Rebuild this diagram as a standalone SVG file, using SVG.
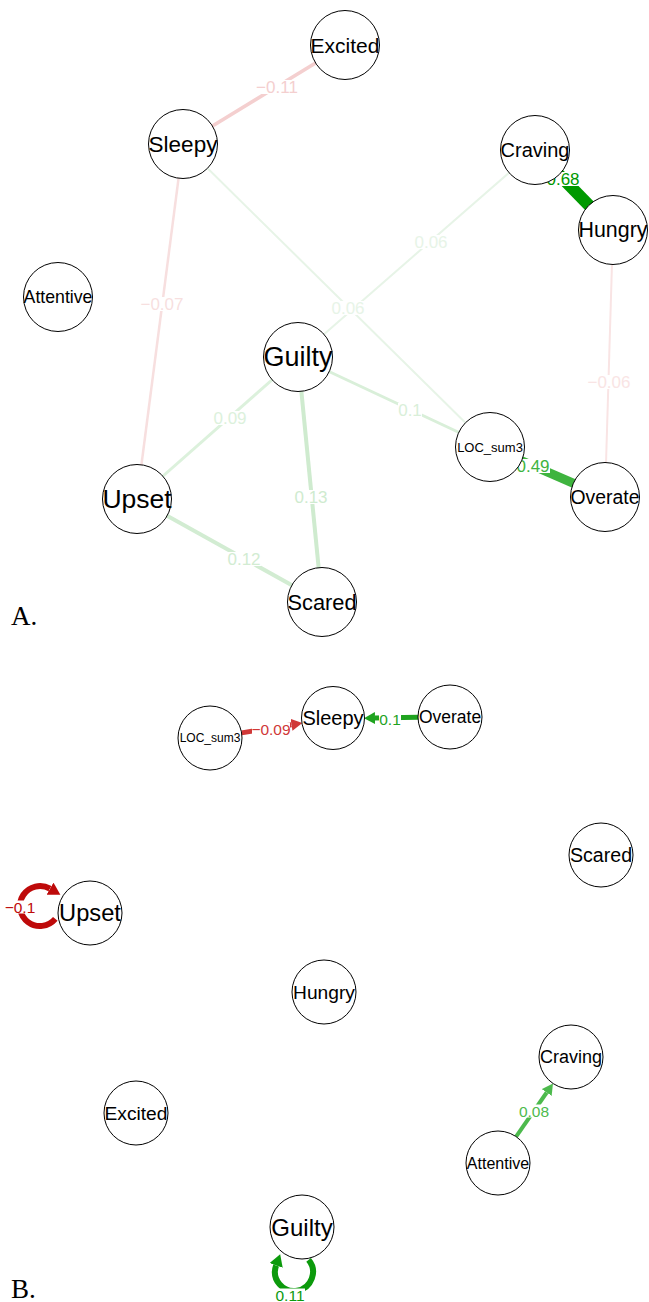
<svg xmlns="http://www.w3.org/2000/svg" width="649" height="1302" viewBox="0 0 649 1302">
<style>
.node circle{fill:#fff;stroke:#000;stroke-width:1}
.node text{font-family:"Liberation Sans",Arial,sans-serif;text-anchor:middle;dominant-baseline:central;fill:#000}
.elab{font-family:"Liberation Sans",Arial,sans-serif;text-anchor:middle;dominant-baseline:central}
.bg{fill:#fff}
.e{fill:none;stroke-linecap:butt}
.panel{font-family:"Liberation Serif","Times New Roman",serif;font-size:27px;fill:#000}
</style>
<defs>
<marker id="ar-red" markerUnits="userSpaceOnUse" markerWidth="12" markerHeight="12" refX="0" refY="6" orient="auto"><path d="M0,0 L11,6 L0,12 z" fill="#D03838"/></marker>
<marker id="ar-green" markerUnits="userSpaceOnUse" markerWidth="12" markerHeight="12" refX="0" refY="6" orient="auto"><path d="M0,0 L11,6 L0,12 z" fill="#1FA31F"/></marker>
<marker id="ar-lgreen" markerUnits="userSpaceOnUse" markerWidth="12" markerHeight="12" refX="0" refY="6" orient="auto"><path d="M0,0 L11,6 L0,12 z" fill="#4DBA4D"/></marker>
<marker id="ar-dred" markerUnits="userSpaceOnUse" markerWidth="14" markerHeight="14" refX="0" refY="7" orient="auto"><path d="M0,0 L12,7 L0,14 z" fill="#BE0A0A"/></marker>
<marker id="ar-dgreen" markerUnits="userSpaceOnUse" markerWidth="14" markerHeight="14" refX="0" refY="7" orient="auto"><path d="M0,0 L12,7 L0,14 z" fill="#0C9A0C"/></marker>
</defs>

<g id="connectors">
  <!-- Panel A -->
  <line class="e" x1="345" y1="45" x2="183" y2="144" stroke="#F4CFCF" stroke-width="3.5"/>
  <line class="e" x1="183" y1="144" x2="137" y2="499" stroke="#F7DFDF" stroke-width="2.5"/>
  <line class="e" x1="183" y1="144" x2="490" y2="447" stroke="#E7F4E7" stroke-width="2"/>
  <line class="e" x1="535" y1="150" x2="298" y2="357" stroke="#E7F4E7" stroke-width="2"/>
  <line class="e" x1="613" y1="230" x2="605" y2="497" stroke="#F9E4E4" stroke-width="2"/>
  <line class="e" x1="535" y1="150" x2="613" y2="230" stroke="#009900" stroke-width="12"/>
  <line class="e" x1="490" y1="447" x2="605" y2="497" stroke="#3FB43F" stroke-width="9"/>
  <line class="e" x1="298" y1="357" x2="490" y2="447" stroke="#D9EFD9" stroke-width="3"/>
  <line class="e" x1="298" y1="357" x2="137" y2="499" stroke="#DCF1DC" stroke-width="3"/>
  <line class="e" x1="298" y1="357" x2="322" y2="602" stroke="#CFEBCF" stroke-width="4"/>
  <line class="e" x1="137" y1="499" x2="322" y2="602" stroke="#D2ECD2" stroke-width="4"/>

  <!-- Panel B -->
  <line class="e" x1="241.6" y1="732.9" x2="291.5" y2="724.8" stroke="#D03838" stroke-width="5" marker-end="url(#ar-red)"/>
  <line class="e" x1="418" y1="717.3" x2="375" y2="718" stroke="#1FA31F" stroke-width="5" marker-end="url(#ar-green)"/>
  <line class="e" x1="516.1" y1="1136.6" x2="546.7" y2="1092.5" stroke="#4DBA4D" stroke-width="4" marker-end="url(#ar-lgreen)"/>
  <path class="e" d="M 55.3 918.9 A 20 20 0 1 1 50 888.7" stroke="#BE0A0A" stroke-width="6" marker-end="url(#ar-dred)"/>
  <path class="e" d="M 308.6 1259.8 A 19 19 0 1 1 276.1 1265.5" stroke="#0C9A0C" stroke-width="6" marker-end="url(#ar-dgreen)"/>

  <!-- Edge labels A -->
  <g font-size="17">
    <rect class="bg" x="256" y="80" width="43" height="14"/><text class="elab" x="277" y="87" fill="#F4CFCF">−0.11</text>
    <rect class="bg" x="141" y="297" width="43" height="14"/><text class="elab" x="162" y="304" fill="#F7DFDF">−0.07</text>
    <rect class="bg" x="331" y="301" width="34" height="14"/><text class="elab" x="348" y="308" fill="#E7F4E7">0.06</text>
    <rect class="bg" x="414" y="235" width="34" height="14"/><text class="elab" x="431" y="242" fill="#E7F4E7">0.06</text>
    <rect class="bg" x="588" y="375" width="43" height="14"/><text class="elab" x="609" y="382" fill="#F9E4E4">−0.06</text>
    <rect class="bg" x="546" y="172" width="34" height="14"/><text class="elab" x="563" y="179" fill="#009900">0.68</text>
    <rect class="bg" x="516" y="459" width="34" height="14"/><text class="elab" x="533" y="466" fill="#3FB43F">0.49</text>
    <rect class="bg" x="398" y="403" width="24" height="14"/><text class="elab" x="410" y="410" fill="#D9EFD9">0.1</text>
    <rect class="bg" x="213" y="411" width="34" height="14"/><text class="elab" x="230" y="418" fill="#DCF1DC">0.09</text>
    <rect class="bg" x="294" y="490" width="34" height="14"/><text class="elab" x="311" y="497" fill="#CFEBCF">0.13</text>
    <rect class="bg" x="227" y="552" width="34" height="14"/><text class="elab" x="244" y="559" fill="#D2ECD2">0.12</text>
  </g>
  <!-- Edge labels B -->
  <g font-size="15.5">
    <rect class="bg" x="252" y="722.5" width="38" height="13"/><text class="elab" x="271" y="729" fill="#D03838">−0.09</text>
    <rect class="bg" x="379" y="712.5" width="22" height="13"/><text class="elab" x="390" y="719" fill="#1FA31F">0.1</text>
    <rect class="bg" x="5" y="900.5" width="31" height="13"/><text class="elab" x="20" y="907" fill="#BE0A0A">−0.1</text>
    <rect class="bg" x="519" y="1104.5" width="30" height="13"/><text class="elab" x="534" y="1111" fill="#4DBA4D">0.08</text>
    <rect class="bg" x="275" y="1288.5" width="30" height="13"/><text class="elab" x="290" y="1295" fill="#0C9A0C">0.11</text>
  </g>
</g>

<!-- Panel A nodes -->
<g id="A-Excited" class="node"><circle cx="345" cy="45" r="34.5"/><text x="345" y="45" font-size="21">Excited</text></g>
<g id="A-Sleepy" class="node"><circle cx="183" cy="144" r="34.5"/><text x="183" y="144" font-size="22.5">Sleepy</text></g>
<g id="A-Craving" class="node"><circle cx="535" cy="150" r="34.5"/><text x="535" y="150" font-size="20">Craving</text></g>
<g id="A-Hungry" class="node"><circle cx="613" cy="230" r="34.5"/><text x="613" y="230" font-size="21.4">Hungry</text></g>
<g id="A-Attentive" class="node"><circle cx="58" cy="297" r="34.5"/><text x="58" y="297" font-size="17.7">Attentive</text></g>
<g id="A-Guilty" class="node"><circle cx="298" cy="357" r="34.5"/><text x="298" y="357" font-size="27">Guilty</text></g>
<g id="A-Upset" class="node"><circle cx="137" cy="499" r="34.5"/><text x="137" y="499" font-size="26.5">Upset</text></g>
<g id="A-LOC_sum3" class="node"><circle cx="490" cy="447" r="34.5"/><text x="490" y="447" font-size="13">LOC_sum3</text></g>
<g id="A-Overate" class="node"><circle cx="605" cy="497" r="34.5"/><text x="605" y="497" font-size="19.4">Overate</text></g>
<g id="A-Scared" class="node"><circle cx="322" cy="602" r="34.5"/><text x="322" y="602" font-size="21.8">Scared</text></g>

<!-- Panel B nodes -->
<g id="B-LOC_sum3" class="node"><circle cx="210" cy="738" r="32"/><text x="210" y="738" font-size="12">LOC_sum3</text></g>
<g id="B-Sleepy" class="node"><circle cx="333" cy="718" r="31.5"/><text x="333" y="718" font-size="20">Sleepy</text></g>
<g id="B-Overate" class="node"><circle cx="450" cy="717" r="32"/><text x="450" y="717" font-size="17.5">Overate</text></g>
<g id="B-Scared" class="node"><circle cx="601" cy="855" r="32"/><text x="601" y="855" font-size="19.6">Scared</text></g>
<g id="B-Upset" class="node"><circle cx="90" cy="913" r="32"/><text x="90" y="913" font-size="23.7">Upset</text></g>
<g id="B-Hungry" class="node"><circle cx="324" cy="992" r="32"/><text x="324" y="992" font-size="19.2">Hungry</text></g>
<g id="B-Craving" class="node"><circle cx="571" cy="1057" r="32"/><text x="571" y="1057" font-size="18">Craving</text></g>
<g id="B-Excited" class="node"><circle cx="136" cy="1113" r="32"/><text x="136" y="1113" font-size="19.2">Excited</text></g>
<g id="B-Attentive" class="node"><circle cx="498" cy="1163" r="32"/><text x="498" y="1163" font-size="16">Attentive</text></g>
<g id="B-Guilty" class="node"><circle cx="302" cy="1227" r="32"/><text x="302" y="1227" font-size="24">Guilty</text></g>

<text class="panel" x="11" y="625">A.</text>
<text class="panel" x="11" y="1298">B.</text>
</svg>
